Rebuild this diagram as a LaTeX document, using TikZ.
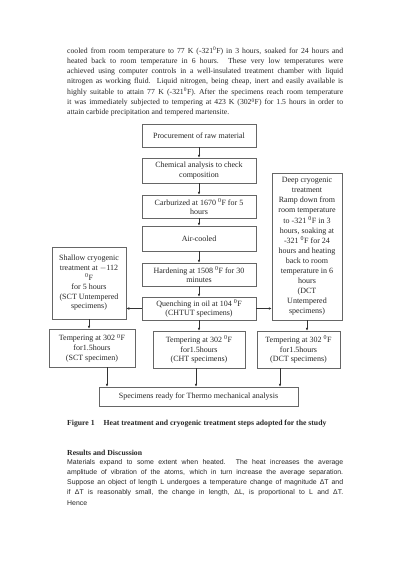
\documentclass[tikz,border=0pt]{standalone}
\usepackage{fontspec}
\setmainfont{Liberation Serif}
\newfontfamily\arialfont{Liberation Sans}
\usetikzlibrary{arrows.meta}
\newcommand{\degz}{\textsuperscript{0}}
\begin{document}
\begin{tikzpicture}[x=1pt,y=-1pt,
  boxst/.style={draw=black!60, line width=0.5pt, align=center, inner sep=0pt,
    font=\fontsize{8}{9.6}\selectfont, text=black!85},
  arr/.style={-{Latex[length=3pt,width=2.6pt]}, line width=0.5pt, draw=black!80},
  para/.style={anchor=west, inner sep=0pt, text=black!85, font=\fontsize{7.7}{9}\selectfont},
  sanspara/.style={anchor=west, inner sep=0pt, text=black!85, font=\arialfont\fontsize{6.9}{8}\selectfont}]
\fill[white] (0,0) rectangle (400,566);
\useasboundingbox (0,0) rectangle (400,566);

% top paragraph
\node[para] (t1) at (67,51) {\makebox[276pt][s]{cooled from room temperature to 77 K (-321\degz F) in 3 hours, soaked for 24 hours and}};
\node[para] (t2) at (67,61.3) {\makebox[276pt][s]{heated back to room temperature in 6 hours. These very low temperatures were}};
\node[para] (t3) at (67,71.6) {\makebox[276pt][s]{achieved using computer controls in a well-insulated treatment chamber with liquid}};
\node[para] (t4) at (67,81.9) {\makebox[276pt][s]{nitrogen as working fluid.\ \ Liquid nitrogen, being cheap, inert and easily available is}};
\node[para] (t5) at (67,92.2) {\makebox[276pt][s]{highly suitable to attain 77 K (-321\degz F). After the specimens reach room temperature}};
\node[para] (t6) at (67,102.5) {\makebox[276pt][s]{it was immediately subjected to tempering at 423 K (302\degz F) for 1.5 hours in order to}};
\node[para] (t7) at (67,112.8) {attain carbide precipitation and tempered martensite.};

% middle column
\node[boxst, minimum width=114pt, minimum height=23pt] (b1) at (199,135.5) {Procurement of raw material};
\node[boxst, minimum width=114pt, minimum height=25pt] (b2) at (199,170.5) {Chemical analysis to check\\composition};
\node[boxst, minimum width=114pt, minimum height=23pt] (b3) at (199,206.5) {Carburized at 1670 \degz F for 5\\hours};
\node[boxst, minimum width=114pt, minimum height=25pt] (b4) at (199,238.5) {Air-cooled};
\node[boxst, minimum width=114pt, minimum height=23pt] (b5) at (199,274.5) {Hardening at 1508 \degz F for 30\\minutes};
\node[boxst, minimum width=114pt, minimum height=23pt] (b6) at (199,308.5) {Quenching in oil at 104 \degz F\\(CHTUT specimens)};

% side boxes
\node[boxst, minimum width=70pt, minimum height=147pt, font=\fontsize{8}{10.1}\selectfont] (deep) at (307,246.5)
  {Deep cryogenic\\treatment\\Ramp down from\\room temperature\\to -321 \degz F in 3\\hours, soaking at\\-321 \degz F for 24\\hours and heating\\back to room\\temperature in 6\\hours\\(DCT\\Untempered\\specimens)};
\node[boxst, minimum width=74pt, minimum height=72pt] (shallow) at (89,283)
  {Shallow cryogenic\\treatment at $-$112\\\degz F\\for 5 hours\\(SCT Untempered\\specimens)};

% tempering row
\node[boxst, minimum width=86pt, minimum height=38pt] (sct) at (92,348) {Tempering at 302 \degz F\\for1.5hours\\(SCT specimen)};
\node[boxst, minimum width=92pt, minimum height=37pt] (cht) at (199,349.5) {Tempering at 302 \degz F\\for1.5hours\\(CHT specimens)};
\node[boxst, minimum width=83pt, minimum height=37pt] (dct) at (298.5,349.5) {Tempering at 302 \degz F\\for1.5hours\\(DCT specimens)};

\node[boxst, minimum width=199pt, minimum height=19pt] (final) at (198.5,396.5) {Specimens ready for Thermo mechanical analysis};

% connectors
\draw[arr] (b1) -- (b2);
\draw[arr] (b2) -- (b3);
\draw[arr] (b3) -- (b4);
\draw[arr] (b4) -- (b5);
\draw[arr] (b5) -- (b6);
\draw[arr] (b6) -- (cht);
\draw[arr] (b6.west) -- (b6.west -| shallow.east);
\draw[arr] (b6.east) -- (b6.east -| deep.west);
\draw[arr] (shallow.south) -- (shallow.south |- sct.north);
\draw[arr] (deep.south) -- (deep.south |- dct.north);
\coordinate (c1) at (107,0);
\coordinate (c2) at (196,0);
\coordinate (c3) at (280,0);
\draw[arr] (sct.south -| c1) -- (final.north -| c1);
\draw[arr] (cht.south -| c2) -- (final.north -| c2);
\draw[arr] (dct.south -| c3) -- (final.north -| c3);

% caption
\node[para, font=\bfseries\fontsize{7.7}{9}\selectfont] (cap) at (67,424) {Figure 1\hspace{9pt}Heat treatment and cryogenic treatment steps adopted for the study};

% results
\node[para, font=\bfseries\fontsize{7.7}{9}\selectfont] (res) at (67,453) {Results and Discussion};
\node[sanspara] (r1) at (67,463) {\makebox[276pt][s]{Materials expand to some extent when heated. The heat increases the average}};
\node[sanspara] (r2) at (67,473) {\makebox[276pt][s]{amplitude of vibration of the atoms, which in turn increase the average separation.}};
\node[sanspara] (r3) at (67,483) {\makebox[276pt][s]{Suppose an object of length L undergoes a temperature change of magnitude ΔT and}};
\node[sanspara] (r4) at (67,493) {\makebox[276pt][s]{if ΔT is reasonably small, the change in length, ΔL, is proportional to L and ΔT.}};
\node[sanspara] (r5) at (67,503) {Hence};
\end{tikzpicture}
\end{document}
